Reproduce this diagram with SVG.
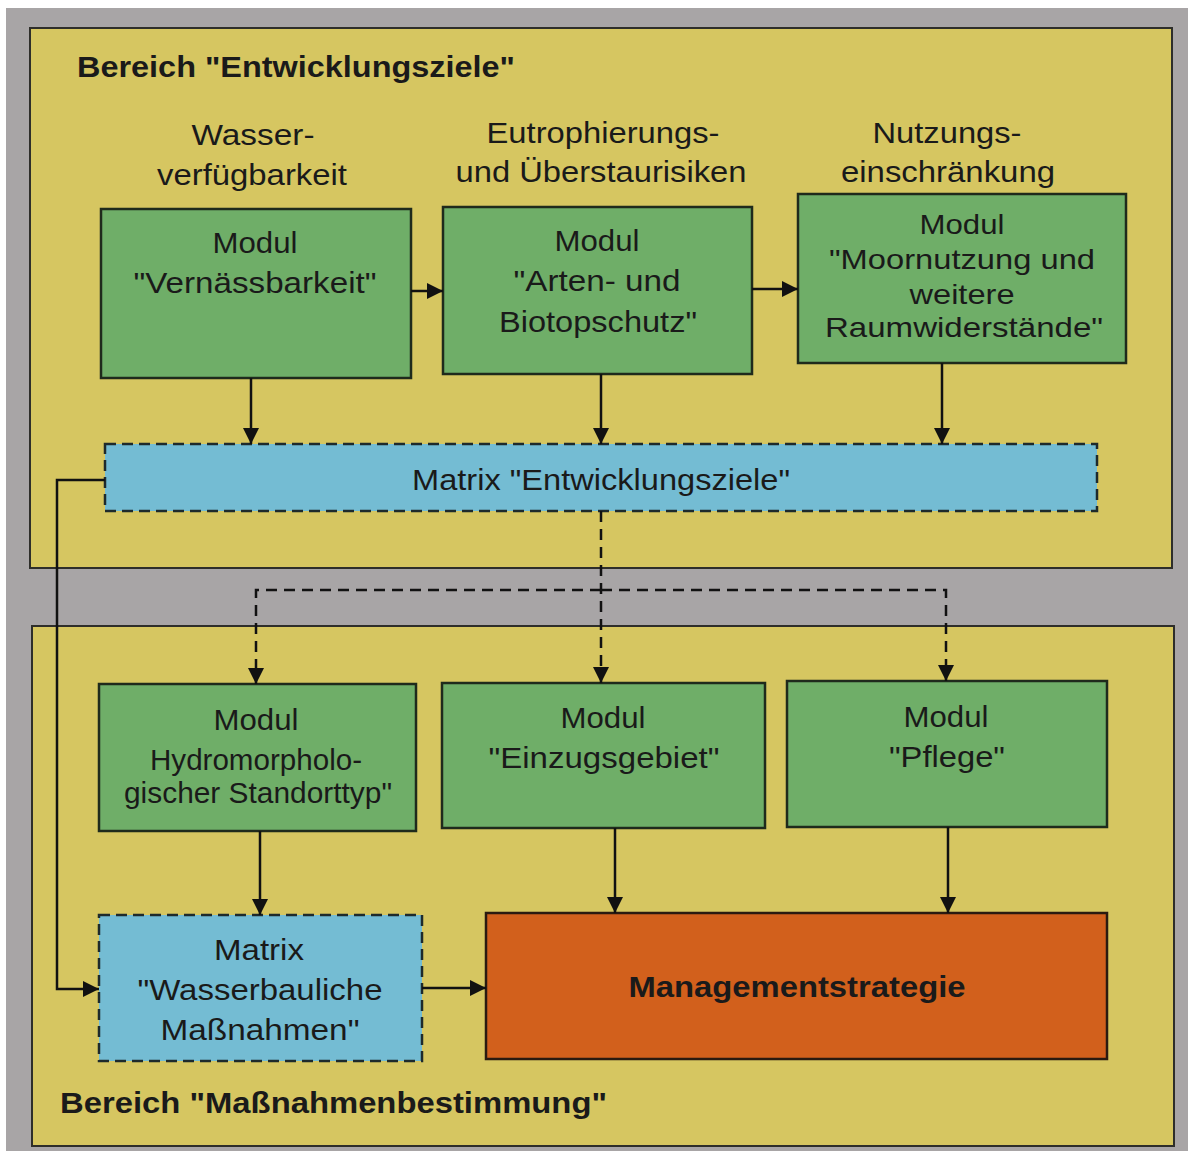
<svg xmlns="http://www.w3.org/2000/svg" width="1189" height="1151" viewBox="0 0 1189 1151">
<style>
  .panel{fill:#d6c661;stroke:#2e2e2a;stroke-width:2}
  .mod{fill:#6fae68;stroke:#1f2a1c;stroke-width:2.5}
  .mat{fill:#74bcd3;stroke:#1e2a2c;stroke-width:2.5;stroke-dasharray:11 6}
  .mgmt{fill:#d2601c;stroke:#2a1a10;stroke-width:2.5}
  text{font-family:"Liberation Sans",Arial,sans-serif;fill:#1a1a1a;text-anchor:middle}
  .t{font-size:29px}
  .ts{font-size:28px}
  .h{font-size:29px;font-weight:bold;text-anchor:start}
  .b{font-size:30px;font-weight:bold}
  .c{fill:none;stroke:#111;stroke-width:2.5}
  .d{fill:none;stroke:#111;stroke-width:2.5;stroke-dasharray:11 7}
</style>
<defs>
  <marker id="ah" markerUnits="userSpaceOnUse" markerWidth="16" markerHeight="18" refX="16" refY="8" orient="auto">
    <path d="M0,0 L16,8 L0,16 Z" fill="#111"/>
  </marker>
</defs>
<rect x="0" y="0" width="1189" height="1151" fill="#ffffff"/>
<rect id="frame" x="6" y="8" width="1182" height="1143" fill="#a8a5a6"/>
<g id="panel-top">
  <rect class="panel" x="30" y="28" width="1142" height="540"/>
  <text class="h" x="77" y="77" textLength="438" lengthAdjust="spacingAndGlyphs">Bereich "Entwicklungsziele"</text>
  <text class="t" x="253" y="145" textLength="123" lengthAdjust="spacingAndGlyphs">Wasser-</text>
  <text class="t" x="252" y="185" textLength="190" lengthAdjust="spacingAndGlyphs">verfügbarkeit</text>
  <text class="t" x="603" y="143" textLength="233" lengthAdjust="spacingAndGlyphs">Eutrophierungs-</text>
  <text class="t" x="601" y="182" textLength="291" lengthAdjust="spacingAndGlyphs">und Überstaurisiken</text>
  <text class="t" x="947" y="143" textLength="149" lengthAdjust="spacingAndGlyphs">Nutzungs-</text>
  <text class="t" x="948" y="182" textLength="214" lengthAdjust="spacingAndGlyphs">einschränkung</text>
</g>
<g id="panel-bottom">
  <rect class="panel" x="32" y="626" width="1142" height="520"/>
  <text class="h" x="60" y="1113" textLength="547" lengthAdjust="spacingAndGlyphs">Bereich "Maßnahmenbestimmung"</text>
</g>
<g id="mod-vernaessbarkeit">
  <rect class="mod" x="101" y="209" width="310" height="169"/>
  <text class="t" x="255" y="253" textLength="85" lengthAdjust="spacingAndGlyphs">Modul</text>
  <text class="t" x="255" y="293" textLength="243" lengthAdjust="spacingAndGlyphs">"Vernässbarkeit"</text>
</g>
<g id="mod-arten">
  <rect class="mod" x="443" y="207" width="309" height="167"/>
  <text class="t" x="597" y="251" textLength="85" lengthAdjust="spacingAndGlyphs">Modul</text>
  <text class="t" x="597" y="291" textLength="167" lengthAdjust="spacingAndGlyphs">"Arten- und</text>
  <text class="t" x="598" y="332" textLength="198" lengthAdjust="spacingAndGlyphs">Biotopschutz"</text>
</g>
<g id="mod-moornutzung">
  <rect class="mod" x="798" y="194" width="328" height="169"/>
  <text class="ts" x="962" y="234" textLength="85" lengthAdjust="spacingAndGlyphs">Modul</text>
  <text class="ts" x="962" y="269" textLength="266" lengthAdjust="spacingAndGlyphs">"Moornutzung und</text>
  <text class="ts" x="962" y="304" textLength="105" lengthAdjust="spacingAndGlyphs">weitere</text>
  <text class="ts" x="964" y="337" textLength="278" lengthAdjust="spacingAndGlyphs">Raumwiderstände"</text>
</g>
<g id="matrix-entwicklungsziele">
  <rect class="mat" x="105" y="444" width="992" height="67"/>
  <text class="t" x="601" y="490" textLength="378" lengthAdjust="spacingAndGlyphs">Matrix "Entwicklungsziele"</text>
</g>
<g id="mod-hydro">
  <rect class="mod" x="99" y="684" width="317" height="147"/>
  <text class="t" x="256" y="730" textLength="85" lengthAdjust="spacingAndGlyphs">Modul</text>
  <text class="t" x="256" y="770" textLength="212" lengthAdjust="spacingAndGlyphs">Hydromorpholo-</text>
  <text class="t" x="258" y="803" textLength="268" lengthAdjust="spacingAndGlyphs">gischer Standorttyp"</text>
</g>
<g id="mod-einzugsgebiet">
  <rect class="mod" x="442" y="683" width="323" height="145"/>
  <text class="t" x="603" y="728" textLength="85" lengthAdjust="spacingAndGlyphs">Modul</text>
  <text class="t" x="604" y="768" textLength="231" lengthAdjust="spacingAndGlyphs">"Einzugsgebiet"</text>
</g>
<g id="mod-pflege">
  <rect class="mod" x="787" y="681" width="320" height="146"/>
  <text class="t" x="946" y="727" textLength="85" lengthAdjust="spacingAndGlyphs">Modul</text>
  <text class="t" x="947" y="767" textLength="116" lengthAdjust="spacingAndGlyphs">"Pflege"</text>
</g>
<g id="matrix-wasserbau">
  <rect class="mat" x="99" y="915" width="323" height="146"/>
  <text class="t" x="259" y="960" textLength="90" lengthAdjust="spacingAndGlyphs">Matrix</text>
  <text class="t" x="260" y="1000" textLength="245" lengthAdjust="spacingAndGlyphs">"Wasserbauliche</text>
  <text class="t" x="260" y="1040" textLength="199" lengthAdjust="spacingAndGlyphs">Maßnahmen"</text>
</g>
<g id="managementstrategie">
  <rect class="mgmt" x="486" y="913" width="621" height="146"/>
  <text class="b" x="797" y="997" textLength="337" lengthAdjust="spacingAndGlyphs">Managementstrategie</text>
</g>
<g id="connectors">
  <line class="c" x1="411" y1="291" x2="443" y2="291" marker-end="url(#ah)"/>
  <line class="c" x1="752" y1="289" x2="798" y2="289" marker-end="url(#ah)"/>
  <line class="c" x1="251" y1="378" x2="251" y2="444" marker-end="url(#ah)"/>
  <line class="c" x1="601" y1="374" x2="601" y2="444" marker-end="url(#ah)"/>
  <line class="c" x1="942" y1="363" x2="942" y2="444" marker-end="url(#ah)"/>
  <polyline class="c" points="105,480 57,480 57,989 99,989" marker-end="url(#ah)"/>
  <line class="d" x1="601" y1="511" x2="601" y2="683" marker-end="url(#ah)"/>
  <polyline class="d" points="601,590 256,590 256,684" marker-end="url(#ah)"/>
  <polyline class="d" points="601,590 946,590 946,681" marker-end="url(#ah)"/>
  <line class="c" x1="260" y1="831" x2="260" y2="915" marker-end="url(#ah)"/>
  <line class="c" x1="615" y1="828" x2="615" y2="913" marker-end="url(#ah)"/>
  <line class="c" x1="948" y1="827" x2="948" y2="913" marker-end="url(#ah)"/>
  <line class="c" x1="422" y1="988" x2="486" y2="988" marker-end="url(#ah)"/>
</g>
</svg>
